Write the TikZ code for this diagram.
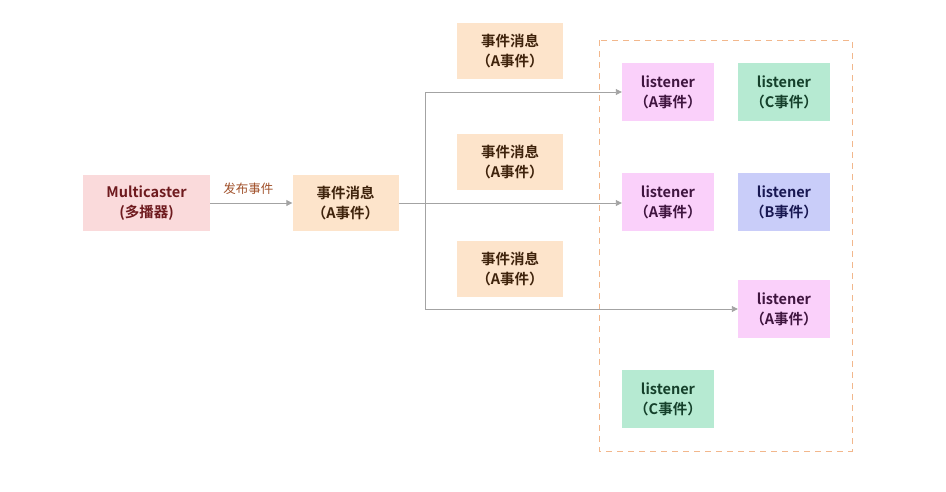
\documentclass[tikz,border=0pt]{standalone}
\usepackage{fontspec}
\setmainfont{Noto Sans CJK SC}[BoldFont={Noto Sans CJK SC Bold}]
\usetikzlibrary{arrows.meta}
\definecolor{mcfill}{HTML}{FADADB}
\definecolor{mctext}{HTML}{6E1A1E}
\definecolor{msgfill}{HTML}{FDE4CB}
\definecolor{msgtext}{HTML}{3F230C}
\definecolor{afill}{HTML}{FAD0FA}
\definecolor{atext}{HTML}{3F153F}
\definecolor{cfill}{HTML}{B6EAD2}
\definecolor{ctext}{HTML}{15402B}
\definecolor{bfill}{HTML}{C9CDF9}
\definecolor{btext}{HTML}{181852}
\definecolor{linec}{HTML}{A3A3A3}
\definecolor{dashc}{HTML}{F2B78C}
\definecolor{lblc}{HTML}{A0502A}
\begin{document}
\begin{tikzpicture}[x=1pt,y=-1pt,
  box/.style={minimum width=106pt,minimum height=56pt,inner sep=0pt,align=center,font=\bfseries\fontsize{14.5}{20}\selectfont},
  lbox/.style={box,minimum width=92pt,minimum height=58pt},
  mcbox/.style={box,minimum width=127pt,fill=mcfill,text=mctext},
  msgbox/.style={box,fill=msgfill,text=msgtext},
  lisA/.style={lbox,fill=afill,text=atext},
  lisB/.style={lbox,fill=bfill,text=btext},
  lisC/.style={lbox,fill=cfill,text=ctext},
  conn/.style={draw=linec,line width=0.9pt,-{Triangle[length=6pt,width=6pt]}},
  seg/.style={draw=linec,line width=0.9pt}
]
\useasboundingbox (0,0) rectangle (946,491);
\draw[dashc,line width=1pt,dash pattern=on 6pt off 5pt] (599,40) rectangle (852,451);

\node[mcbox] (mc) at (146.5,203) {Multicaster\\(多播器)};
\node[msgbox] (m0) at (345.5,203) {事件消息\\（A事件）};
\node[msgbox] (m1) at (510,51) {事件消息\\（A事件）};
\node[msgbox] (m2) at (510,162) {事件消息\\（A事件）};
\node[msgbox] (m3) at (510,269) {事件消息\\（A事件）};

\node[lisA] (a1) at (668,92) {listener\\（A事件）};
\node[lisC] (c1) at (784,92) {listener\\（C事件）};
\node[lisA] (a2) at (668,202) {listener\\（A事件）};
\node[lisB] (b1) at (784,202) {listener\\（B事件）};
\node[lisA] (a3) at (784,309) {listener\\（A事件）};
\node[lisC] (c2) at (668,399) {listener\\（C事件）};

\draw[conn] (mc.east) -- node[above=5pt,xshift=-3pt,font=\fontsize{12.5}{14}\selectfont,text=lblc]{发布事件} (m0.west);
\coordinate (br) at (425,203);
\draw[conn] (m0.east) -- (a2.west |- m0.east);
\draw[seg] (br) -- (br |- a1.west);
\draw[seg] (br) -- (br |- a3.west);
\draw[conn] (br |- a1.west) -- (a1.west);
\draw[conn] (br |- a3.west) -- (a3.west);
\end{tikzpicture}
\end{document}
